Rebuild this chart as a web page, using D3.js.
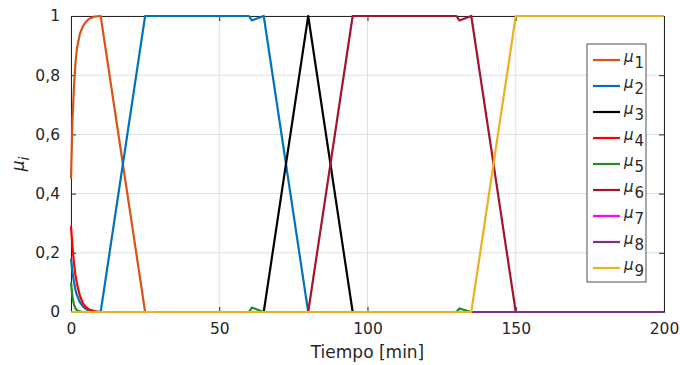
<script src="https://cdn.jsdelivr.net/npm/d3@7"></script>
<style>
  body { margin: 0; background: #fff; }
  text { font-family: "DejaVu Sans", sans-serif; fill: #262626; }
</style>
<div id="vis"></div>
<script>
  // breakpoints in time (min), shared by all series
  const tiempo = [0, 0.5, 1, 1.5, 2, 3, 4, 5, 6, 8, 10, 25, 60, 61, 65, 80, 95, 130, 131, 135, 150, 200]

  const mu1 = [0.45, 0.65, 0.76, 0.84, 0.89, 0.94, 0.965, 0.98, 0.99, 0.998, 1, 0, 0, 0, 0, 0, 0, 0, 0, 0, 0, 0]
  const mu2 = [0.18, 0.135, 0.1, 0.075, 0.057, 0.033, 0.019, 0.01, 0.005, 0.001, 0, 1, 1, 0.985, 1, 0, 0, 0, 0, 0, 0, 0]
  const mu3 = [0, 0, 0, 0, 0, 0, 0, 0, 0, 0, 0, 0, 0, 0, 0, 1, 0, 0, 0, 0, 0, 0]
  const mu4 = [0.29, 0.22, 0.165, 0.125, 0.095, 0.055, 0.03, 0.017, 0.009, 0.002, 0, 0, 0, 0, 0, 0, 0, 0, 0, 0, 0, 0]
  const mu5 = [0.1, 0.05, 0.025, 0.012, 0.006, 0.002, 0, 0, 0, 0, 0, 0, 0, 0.015, 0, 0, 0, 0, 0.012, 0, 0, 0]
  const mu6 = [0, 0, 0, 0, 0, 0, 0, 0, 0, 0, 0, 0, 0, 0, 0, 0, 1, 1, 0.985, 1, 0, 0]
  const mu7 = [0, 0, 0, 0, 0, 0, 0, 0, 0, 0, 0, 0, 0, 0, 0, 0, 0, 0, 0, 0, 0, 0]
  const mu8 = [0, 0, 0, 0, 0, 0, 0, 0, 0, 0, 0, 0, 0, 0, 0, 0, 0, 0, 0, 0, 0, 0]
  const mu9 = [0, 0, 0, 0, 0, 0, 0, 0, 0, 0, 0, 0, 0, 0, 0, 0, 0, 0, 0, 0, 1, 1]

  const seriesNames = ['1', '2', '3', '4', '5', '6', '7', '8', '9']
  const seriesValues = [mu1, mu2, mu3, mu4, mu5, mu6, mu7, mu8, mu9]
  const colors = ['#D95319', '#0072BD', '#000000', '#FF0000', '#228B22', '#A2142F', '#FF00FF', '#7E2F8E', '#EDB120']

  const xTicks = [0, 50, 100, 150, 200]
  const yTicks = [0, 0.2, 0.4, 0.6, 0.8, 1]

  const W = 680, H = 365
  const mLeft = 71, mRight = 664, mTop = 16, mBottom = 312

  var svg = d3.select('#vis')
    .append('svg')
    .attr('width', W)
    .attr('height', H)

  var x = d3.scaleLinear().domain([0, 200]).range([mLeft, mRight])
  var y = d3.scaleLinear().domain([0, 1]).range([mBottom, mTop])

  var fmt = function(d) { return String(d).replace('.', ',') }

  // grid
  svg.append('g').selectAll('line')
    .data(xTicks)
    .enter().append('line')
    .attr('x1', d => x(d)).attr('x2', d => x(d))
    .attr('y1', mTop).attr('y2', mBottom)
    .attr('stroke', '#dfdfdf').attr('stroke-width', 1)
  svg.append('g').selectAll('line')
    .data(yTicks)
    .enter().append('line')
    .attr('x1', mLeft).attr('x2', mRight)
    .attr('y1', d => y(d)).attr('y2', d => y(d))
    .attr('stroke', '#dfdfdf').attr('stroke-width', 1)

  // axes (ticks inward, box style)
  var axB = svg.append('g').attr('transform', 'translate(0,' + mBottom + ')')
    .call(d3.axisBottom(x).tickValues(xTicks).tickSizeInner(-5).tickSizeOuter(0).tickPadding(11).tickFormat(fmt))
  var axT = svg.append('g').attr('transform', 'translate(0,' + mTop + ')')
    .call(d3.axisTop(x).tickValues(xTicks).tickSizeInner(-5).tickSizeOuter(0).tickFormat(''))
  var axL = svg.append('g').attr('transform', 'translate(' + mLeft + ',0)')
    .call(d3.axisLeft(y).tickValues(yTicks).tickSizeInner(-5).tickSizeOuter(0).tickPadding(11).tickFormat(fmt))
  var axR = svg.append('g').attr('transform', 'translate(' + mRight + ',0)')
    .call(d3.axisRight(y).tickValues(yTicks).tickSizeInner(-5).tickSizeOuter(0).tickFormat(''))

  ;[axB, axT, axL, axR].forEach(function(a) {
    a.selectAll('path').attr('stroke', '#262626')
    a.selectAll('line').attr('stroke', '#262626')
    a.selectAll('text').style('font-size', '15.5px').style('font-family', '"DejaVu Sans", sans-serif').attr('fill', '#262626')
  })

  // lines
  var line = d3.line()
    .x((d, i) => x(tiempo[i]))
    .y(d => y(d))

  svg.append('g').selectAll('path')
    .data(seriesValues)
    .enter().append('path')
    .attr('d', line)
    .attr('fill', 'none')
    .attr('stroke', (d, i) => colors[i])
    .attr('stroke-width', 2.2)
    .attr('stroke-linejoin', 'round')

  // legend
  var lg = svg.append('g').attr('transform', 'translate(587,44)')
  lg.append('rect')
    .attr('x', 0).attr('y', 0)
    .attr('width', 59).attr('height', 238)
    .attr('fill', '#fff').attr('stroke', '#262626').attr('stroke-width', 0.8)
  var items = lg.selectAll('g')
    .data(seriesNames)
    .enter().append('g')
    .attr('transform', (d, i) => 'translate(0,' + (16 + i * 26) + ')')
  items.append('line')
    .attr('x1', 6).attr('x2', 33)
    .attr('y1', 0).attr('y2', 0)
    .attr('stroke', (d, i) => colors[i])
    .attr('stroke-width', 2.2)
  var lt = items.append('text')
    .attr('x', 37).attr('y', 2)
    .style('font-size', '15px')
  lt.append('tspan').style('font-style', 'italic').text('μ')
  lt.append('tspan').attr('dx', 1).attr('dy', 6).style('font-size', '15px').text(d => d)

  // axis labels
  svg.append('text')
    .attr('x', (mLeft + mRight) / 2)
    .attr('y', 358)
    .style('text-anchor', 'middle')
    .style('font-size', '17px')
    .text('Tiempo [min]')

  var yl = svg.append('text')
    .attr('transform', 'translate(24,' + ((mTop + mBottom) / 2) + ')rotate(-90)')
    .style('text-anchor', 'middle')
    .style('font-size', '17px')
  yl.append('tspan').style('font-style', 'italic').text('μ')
  yl.append('tspan').attr('dy', 5).style('font-size', '14px').style('font-style', 'italic').text('i')
</script>
